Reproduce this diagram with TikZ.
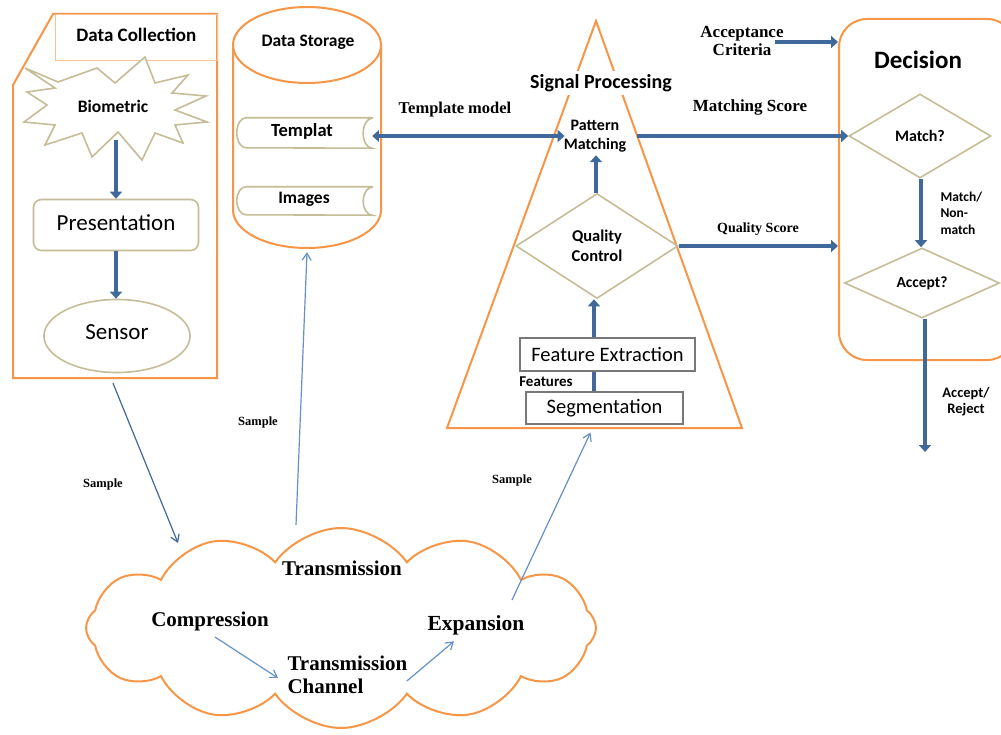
\documentclass[tikz,border=0pt]{standalone}
\usepackage{fontspec}
\setmainfont{Liberation Serif}
\newfontfamily\calib{Carlito}
\usetikzlibrary{shapes.geometric,shapes.symbols,arrows.meta,calc}
\definecolor{orng}{RGB}{247,150,70}
\definecolor{tanc}{RGB}{196,189,151}
\definecolor{darr}{RGB}{64,104,155}
\definecolor{larr}{RGB}{100,145,200}
\definecolor{gbox}{RGB}{120,120,120}
\newcommand\fsz[2]{\fontsize{#1}{#2}\selectfont}
\newcommand\storedshape[3]{% node, x radius, y radius
  \draw[tanline] (#1.north east) -- ($(#1.north west)+(#2,0)$)
    arc[start angle=270,end angle=90,x radius=#2,y radius=#3]
    -- (#1.south east)
    arc[start angle=90,end angle=270,x radius=#2,y radius=#3] -- cycle;}
\tikzset{
  orangeline/.style={draw=orng, line width=2pt},
  tanline/.style={draw=tanc, line width=1.6pt},
  bigarrow/.style={draw=darr, line width=4.5pt, -{Triangle[length=7pt,width=12pt]}},
  bigline/.style={draw=darr, line width=4.5pt},
  thinarrow/.style={draw=larr, line width=1.2pt, -{Straight Barb[length=7pt,width=9pt]}},
  sansb/.style={font=\calib\bfseries\fsz{#1}{#1}},
  sansr/.style={font=\calib\fsz{#1}{#1}},
  serb/.style={font=\bfseries\fsz{#1}{#1}},
}
\begin{document}
\begin{tikzpicture}[x=1pt,y=-1pt]
\useasboundingbox (0,0) rectangle (1001,735);
\fill[white] (0,0) rectangle (1001,735);
\clip (0,0) rectangle (1001,735);

% ---------- Data Collection ----------
\node[minimum width=204pt, minimum height=364pt, inner sep=0] (frame) at (115,196) {};
\draw[orangeline] (53,14) -- (217,14) -- (217,378) -- (13,378) -- (13,85) -- cycle;
\node[draw=orng!60, line width=0.8pt, minimum width=162pt, minimum height=46pt, inner sep=0,
      anchor=north west, sansb=19] (dc) at (55,14) {\raisebox{5pt}{Data Collection}};
\draw[tanline, fill=white, line join=miter] (25,68) -- (58,82) -- (97,68) -- (115,83) -- (145,57) -- (155,83)
   -- (188,75) -- (172,93) -- (206,96) -- (175,110) -- (207,122) -- (175,125) -- (183,143)
   -- (155,133) -- (142,160) -- (118,132) -- (92,157) -- (82,133) -- (45,145) -- (55,125)
   -- (24,122) -- (47,105) -- (27,92) -- (55,88) -- cycle;
\node[sansb=17.5] (bio) at (113,106) {Biometric};
\node[draw=tanc, line width=1.6pt, rounded corners=8pt, minimum width=165pt, minimum height=51pt,
      inner sep=0, sansr=23] (pres) at (116,225) {\raisebox{4pt}{Presentation}};
\node[ellipse, draw=tanc, line width=1.6pt, minimum width=146pt, minimum height=73pt,
      inner sep=0, sansr=23] (sensor) at (117,336) {\raisebox{7pt}{Sensor}};
\draw[bigarrow] ($(bio)+(3,34)$) -- (pres.north -| 116,0);
\draw[bigarrow] (pres.south -| 116,0) -- (sensor.north -| 116,0);

% ---------- Data Storage ----------
\draw[orangeline] (307,45) ellipse[x radius=74, y radius=38];
\draw[orangeline] (233,45) -- (233,210) arc[start angle=180,end angle=0,x radius=74,y radius=38] -- (381,45);
\node[minimum width=148pt, minimum height=241pt, inner sep=0] (store) at (307,128.5) {};
\node[sansb=17.5] (dst) at (308,42) {Data Storage};
\node[minimum width=135pt, minimum height=30pt, inner sep=0] (tpl) at (304.5,133) {};
\storedshape{tpl}{9}{15}
\node[sansb=18.5] (tpltxt) at (302,131) {Templat};
\node[minimum width=135pt, minimum height=28pt, inner sep=0] (imgs) at (304.5,201) {};
\storedshape{imgs}{9}{14}
\node[sansb=17.5] (imgtxt) at (304,199) {Images};

% ---------- Signal Processing ----------
\draw[orangeline] (596,21) -- (742,428) -- (447,428) -- cycle;
\node[fill=white, inner sep=3pt, sansb=20] (sp) at (601,83) {Signal Processing};
\node[align=center, inner sep=1pt, font=\calib\bfseries\fsz{16}{19}] (pm) at (595,136) {Pattern\\Matching};
\node[diamond, draw=tanc, line width=1.6pt, minimum width=162pt, minimum height=105pt, inner sep=0,
      align=center, font=\calib\bfseries\fsz{16.5}{20}] (qc) at (597,246) {Quality\\Control};
\node[draw=gbox, line width=1.2pt, minimum width=175pt, minimum height=33pt, inner sep=0, sansr=20.5] (fe) at (607.5,354.5) {Feature Extraction};
\node[draw=gbox, line width=1.2pt, minimum width=157pt, minimum height=32pt, inner sep=0, sansr=20.5] (seg) at (604.5,408) {Segmentation};
\draw[bigline] (seg.north -| 594,0) -- (fe.south -| 594,0);
\draw[bigarrow] (fe.north -| 594,0) -- (qc.south -| 594,0);
\draw[bigarrow] (qc.north -| 596,0) -- ($(pm.south -| 596,0)+(0,2)$);
\node[sansb=15] (feat) at (546,382) {Features};

% ---------- Decision ----------
\node[draw=orng, line width=2pt, rounded corners=28pt, minimum width=176pt, minimum height=341pt,
      inner sep=0, anchor=north west] (dec) at (838,18) {};
\node[sansb=25] (dectxt) at (918,60) {Decision};
\node[diamond, draw=tanc, line width=1.6pt, minimum width=142pt, minimum height=84pt, inner sep=0, sansb=16] (match) at (920,136) {Match?};
\node[diamond, draw=tanc, line width=1.6pt, minimum width=155pt, minimum height=70pt, inner sep=0, sansb=15.5] (acc) at (922,283) {Accept?};
\draw[bigarrow] (match.south -| 921,0) -- (acc.north -| 921,0);
\coordinate (out) at (925,452);
\draw[bigarrow] (acc.south -| out) -- (out);
\node[anchor=west, align=left, font=\calib\bfseries\fsz{13.5}{16.5}] (mnm) at (937,213) {Match/\\Non-\\match};
\node[align=center, font=\calib\bfseries\fsz{14.5}{16}] (ar) at (966,402) {Accept/\\Reject};

% ---------- connectors between blocks ----------
\node[serb=16.5] (tm) at (455,110) {Template model};
\draw[draw=darr, line width=4.5pt, {Triangle[length=7pt,width=12pt]}-{Triangle[length=7pt,width=12pt]}]
   (pm.west -| tpl.east) -- ($(pm.west)+(2,0)$);
\node[serb=17] (ms) at (750,107) {Matching Score};
\draw[bigarrow] (pm.east) ++(10,0) -- (match.west);
\node[serb=14] (qs) at (758,229) {Quality Score};
\draw[bigarrow] (qc.east) -- (qc.east -| dec.west);
\node[align=center, font=\bfseries\fsz{17}{18}] (ac) at (742,41) {Acceptance\\Criteria};
\draw[bigarrow] (ac.east) ++(-12,1) -- (dec.west |- 0,42);

% ---------- Transmission cloud ----------
\node[cloud, draw=orng, line width=2pt, cloud puffs=12, cloud puff arc=110, aspect=2.5,
      minimum width=510pt, minimum height=200pt, inner sep=0] (cl) at (341,628) {};
\node[serb=21] (trans) at (342,568) {Transmission};
\node[serb=21] (comp) at (210,621) {Compression};
\node[align=left, anchor=west, font=\bfseries\fsz{21}{23}] (chan) at (284,675) {Transmission\\Channel};
\node[serb=21.5] (exp) at (476,625) {Expansion};
\draw[thinarrow] ($(comp.south)+(5,3)$) -- ($(chan.west)+(-6,3)$);
\draw[thinarrow] ($(chan.east)+(-4,6)$) -- ($(exp.south)+(-22,3)$);

% ---------- Sample arrows ----------
\coordinate (s1) at (178,543);
\coordinate (s2) at (296,525);
\coordinate (s3) at (512,600);
\draw[thinarrow, draw=darr] ($(frame.south)+(-2,5)$) -- (s1);
\draw[thinarrow] (s2) -- ($(store.south)+(0,3)$);
\draw[thinarrow] (s3) -- ($(seg.south)+(-14,8)$);
\node[serb=12.5] (sa1) at (103,484) {Sample};
\node[serb=12.5] (sa2) at (258,422) {Sample};
\node[serb=12.5] (sa3) at (512,480) {Sample};
\end{tikzpicture}
\end{document}
